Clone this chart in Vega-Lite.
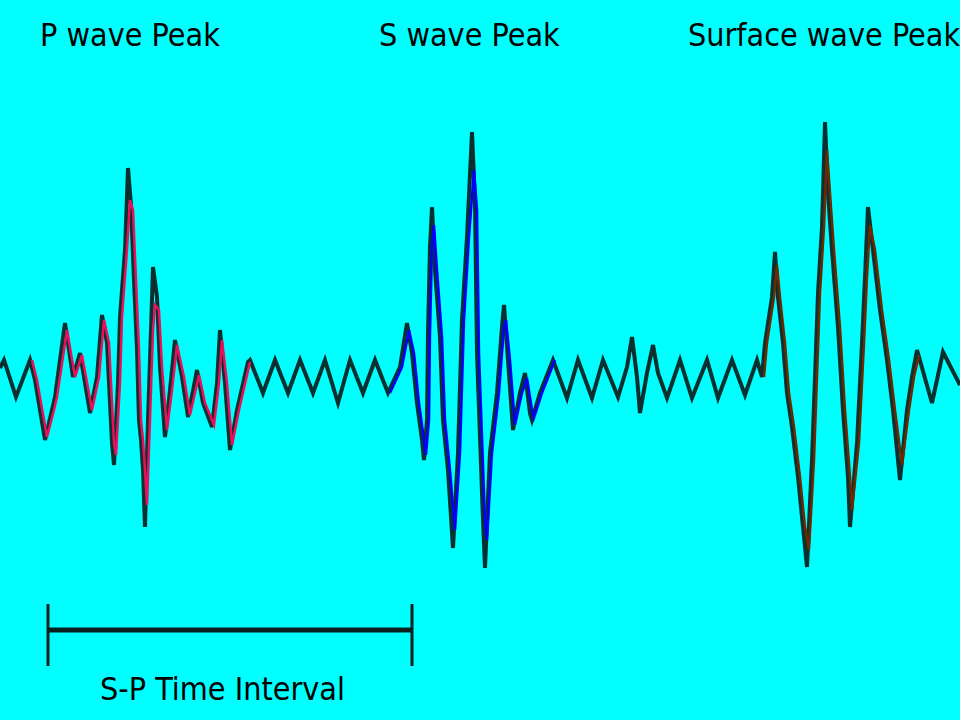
{
  "$schema": "https://vega.github.io/schema/vega-lite/v6.json",
  "width": 960,
  "height": 720,
  "autosize": "none",
  "padding": 0,
  "background": "#00FFFF",
  "config": {"view": {"stroke": null}},
  "datasets": {
    "trace": [
      {"i":1,"x":0,"y":368},{"i":2,"x":4,"y":360},{"i":3,"x":16,"y":397},{"i":4,"x":30,"y":360},
      {"i":5,"x":35,"y":380},{"i":6,"x":45,"y":440},{"i":7,"x":52,"y":410},{"i":8,"x":55,"y":397},{"i":9,"x":65,"y":323},{"i":10,"x":73,"y":377},{"i":11,"x":80,"y":353},{"i":12,"x":90,"y":413},{"i":13,"x":97,"y":377},{"i":14,"x":102,"y":315},{"i":15,"x":107,"y":343},{"i":16,"x":112,"y":443},{"i":17,"x":114,"y":465},{"i":18,"x":118,"y":383},{"i":19,"x":120,"y":317},{"i":20,"x":125,"y":250},{"i":21,"x":128,"y":168},{"i":22,"x":131,"y":205},{"i":23,"x":134,"y":280},{"i":24,"x":137,"y":350},{"i":25,"x":139,"y":420},{"i":26,"x":141,"y":440},{"i":27,"x":143,"y":470},{"i":28,"x":145,"y":527},{"i":29,"x":148,"y":420},{"i":30,"x":151,"y":330},{"i":31,"x":153,"y":267},{"i":32,"x":157,"y":297},{"i":33,"x":160,"y":367},{"i":34,"x":165,"y":437},{"i":35,"x":170,"y":390},{"i":36,"x":175,"y":340},{"i":37,"x":182,"y":377},{"i":38,"x":188,"y":417},{"i":39,"x":197,"y":370},{"i":40,"x":203,"y":403},{"i":41,"x":212,"y":427},{"i":42,"x":217,"y":383},{"i":43,"x":220,"y":330},{"i":44,"x":225,"y":383},{"i":45,"x":230,"y":450},{"i":46,"x":237,"y":410},{"i":47,"x":248,"y":362},
      {"i":48,"x":250,"y":360},{"i":49,"x":263,"y":393},{"i":50,"x":275,"y":360},{"i":51,"x":288,"y":393},{"i":52,"x":300,"y":360},{"i":53,"x":313,"y":393},{"i":54,"x":325,"y":360},{"i":55,"x":338,"y":403},{"i":56,"x":350,"y":360},{"i":57,"x":363,"y":393},{"i":58,"x":375,"y":360},{"i":59,"x":388,"y":393},
      {"i":60,"x":400,"y":367},{"i":61,"x":407,"y":323},{"i":62,"x":412,"y":353},{"i":63,"x":417,"y":403},{"i":64,"x":422,"y":440},{"i":65,"x":424,"y":460},{"i":66,"x":427,"y":420},{"i":67,"x":428,"y":333},{"i":68,"x":430,"y":247},{"i":69,"x":432,"y":207},{"i":70,"x":435,"y":270},{"i":71,"x":440,"y":337},{"i":72,"x":443,"y":420},{"i":73,"x":448,"y":470},{"i":74,"x":453,"y":548},{"i":75,"x":458,"y":453},{"i":76,"x":462,"y":320},{"i":77,"x":467,"y":237},{"i":78,"x":472,"y":132},{"i":79,"x":475,"y":203},{"i":80,"x":477,"y":353},{"i":81,"x":480,"y":437},{"i":82,"x":483,"y":520},{"i":83,"x":485,"y":568},{"i":84,"x":490,"y":453},{"i":85,"x":497,"y":393},{"i":86,"x":502,"y":327},{"i":87,"x":504,"y":305},{"i":88,"x":508,"y":360},{"i":89,"x":513,"y":430},{"i":90,"x":520,"y":393},{"i":91,"x":525,"y":373},{"i":92,"x":530,"y":413},{"i":93,"x":532,"y":420},{"i":94,"x":540,"y":393},{"i":95,"x":553,"y":360},
      {"i":96,"x":567,"y":398},{"i":97,"x":578,"y":360},{"i":98,"x":592,"y":398},{"i":99,"x":603,"y":360},{"i":100,"x":618,"y":397},{"i":101,"x":627,"y":367},{"i":102,"x":632,"y":337},{"i":103,"x":637,"y":377},{"i":104,"x":640,"y":413},{"i":105,"x":647,"y":373},{"i":106,"x":653,"y":345},{"i":107,"x":658,"y":373},{"i":108,"x":667,"y":398},{"i":109,"x":680,"y":360},{"i":110,"x":692,"y":398},{"i":111,"x":707,"y":360},{"i":112,"x":718,"y":398},{"i":113,"x":732,"y":360},{"i":114,"x":745,"y":395},{"i":115,"x":757,"y":360},{"i":116,"x":762,"y":377},
      {"i":117,"x":765,"y":343},{"i":118,"x":772,"y":297},{"i":119,"x":775,"y":252},{"i":120,"x":778,"y":297},{"i":121,"x":783,"y":343},{"i":122,"x":787,"y":393},{"i":123,"x":792,"y":427},{"i":124,"x":798,"y":477},{"i":125,"x":803,"y":527},{"i":126,"x":807,"y":567},{"i":127,"x":812,"y":460},{"i":128,"x":815,"y":377},{"i":129,"x":818,"y":293},{"i":130,"x":822,"y":227},{"i":131,"x":825,"y":122},{"i":132,"x":828,"y":193},{"i":133,"x":832,"y":250},{"i":134,"x":838,"y":327},{"i":135,"x":843,"y":410},{"i":136,"x":848,"y":477},{"i":137,"x":850,"y":527},{"i":138,"x":857,"y":443},{"i":139,"x":862,"y":343},{"i":140,"x":865,"y":277},{"i":141,"x":868,"y":207},{"i":142,"x":873,"y":250},{"i":143,"x":880,"y":310},{"i":144,"x":887,"y":360},{"i":145,"x":893,"y":410},{"i":146,"x":900,"y":480},{"i":147,"x":907,"y":410},{"i":148,"x":912,"y":377},{"i":149,"x":917,"y":350},
      {"i":150,"x":932,"y":403},{"i":151,"x":943,"y":352},{"i":152,"x":960,"y":385}
    ],
    "colored": [
      {"w":"P","i":4,"x":30,"y":360},{"w":"P","i":5,"x":35,"y":380},{"w":"P","i":6,"x":45,"y":437},{"w":"P","i":7,"x":52,"y":410},{"w":"P","i":8,"x":55,"y":397},{"w":"P","i":9,"x":65,"y":330},{"w":"P","i":10,"x":73,"y":377},{"w":"P","i":11,"x":80,"y":355},{"w":"P","i":12,"x":90,"y":410},{"w":"P","i":13,"x":97,"y":377},{"w":"P","i":14,"x":102,"y":320},{"w":"P","i":15,"x":107,"y":343},{"w":"P","i":16,"x":112,"y":443},{"w":"P","i":17,"x":114,"y":455},{"w":"P","i":18,"x":118,"y":383},{"w":"P","i":19,"x":120,"y":317},{"w":"P","i":20,"x":125,"y":250},{"w":"P","i":21,"x":128,"y":200},{"w":"P","i":22,"x":131,"y":210},{"w":"P","i":23,"x":134,"y":280},{"w":"P","i":24,"x":137,"y":350},{"w":"P","i":25,"x":139,"y":420},{"w":"P","i":26,"x":141,"y":440},{"w":"P","i":27,"x":143,"y":470},{"w":"P","i":28,"x":145,"y":505},{"w":"P","i":29,"x":148,"y":420},{"w":"P","i":30,"x":151,"y":330},{"w":"P","i":31,"x":153,"y":305},{"w":"P","i":32,"x":157,"y":310},{"w":"P","i":33,"x":160,"y":367},{"w":"P","i":34,"x":165,"y":430},{"w":"P","i":35,"x":170,"y":390},{"w":"P","i":36,"x":175,"y":345},{"w":"P","i":37,"x":182,"y":377},{"w":"P","i":38,"x":188,"y":415},{"w":"P","i":39,"x":197,"y":375},{"w":"P","i":40,"x":203,"y":403},{"w":"P","i":41,"x":212,"y":425},{"w":"P","i":42,"x":217,"y":383},{"w":"P","i":43,"x":220,"y":340},{"w":"P","i":44,"x":225,"y":383},{"w":"P","i":45,"x":230,"y":445},{"w":"P","i":46,"x":237,"y":410},{"w":"P","i":47,"x":248,"y":362},
      {"w":"S","i":59,"x":388,"y":393},{"w":"S","i":60,"x":400,"y":367},{"w":"S","i":61,"x":407,"y":330},{"w":"S","i":62,"x":412,"y":353},{"w":"S","i":63,"x":417,"y":403},{"w":"S","i":64,"x":422,"y":440},{"w":"S","i":65,"x":424,"y":455},{"w":"S","i":66,"x":427,"y":420},{"w":"S","i":67,"x":428,"y":333},{"w":"S","i":68,"x":430,"y":247},{"w":"S","i":69,"x":432,"y":225},{"w":"S","i":70,"x":435,"y":270},{"w":"S","i":71,"x":440,"y":337},{"w":"S","i":72,"x":443,"y":420},{"w":"S","i":73,"x":448,"y":470},{"w":"S","i":74,"x":453,"y":530},{"w":"S","i":75,"x":458,"y":453},{"w":"S","i":76,"x":462,"y":320},{"w":"S","i":77,"x":467,"y":237},{"w":"S","i":78,"x":472,"y":170},{"w":"S","i":79,"x":475,"y":210},{"w":"S","i":80,"x":477,"y":353},{"w":"S","i":81,"x":480,"y":437},{"w":"S","i":82,"x":483,"y":520},{"w":"S","i":83,"x":485,"y":540},{"w":"S","i":84,"x":490,"y":453},{"w":"S","i":85,"x":497,"y":393},{"w":"S","i":86,"x":502,"y":327},{"w":"S","i":87,"x":504,"y":320},{"w":"S","i":88,"x":508,"y":360},{"w":"S","i":89,"x":513,"y":425},{"w":"S","i":90,"x":520,"y":393},{"w":"S","i":91,"x":525,"y":378},{"w":"S","i":92,"x":530,"y":410},{"w":"S","i":93,"x":532,"y":418},{"w":"S","i":94,"x":540,"y":393},{"w":"S","i":95,"x":553,"y":360},
      {"w":"Surface","i":116,"x":762,"y":377},{"w":"Surface","i":117,"x":765,"y":343},{"w":"Surface","i":118,"x":772,"y":297},{"w":"Surface","i":119,"x":775,"y":265},{"w":"Surface","i":120,"x":778,"y":297},{"w":"Surface","i":121,"x":783,"y":343},{"w":"Surface","i":122,"x":787,"y":393},{"w":"Surface","i":123,"x":792,"y":427},{"w":"Surface","i":124,"x":798,"y":477},{"w":"Surface","i":125,"x":803,"y":527},{"w":"Surface","i":126,"x":807,"y":550},{"w":"Surface","i":127,"x":812,"y":460},{"w":"Surface","i":128,"x":815,"y":377},{"w":"Surface","i":129,"x":818,"y":293},{"w":"Surface","i":130,"x":822,"y":227},{"w":"Surface","i":131,"x":825,"y":150},{"w":"Surface","i":132,"x":828,"y":193},{"w":"Surface","i":133,"x":832,"y":250},{"w":"Surface","i":134,"x":838,"y":327},{"w":"Surface","i":135,"x":843,"y":410},{"w":"Surface","i":136,"x":848,"y":477},{"w":"Surface","i":137,"x":850,"y":510},{"w":"Surface","i":138,"x":857,"y":443},{"w":"Surface","i":139,"x":862,"y":343},{"w":"Surface","i":140,"x":865,"y":277},{"w":"Surface","i":141,"x":868,"y":225},{"w":"Surface","i":142,"x":873,"y":250},{"w":"Surface","i":143,"x":880,"y":310},{"w":"Surface","i":144,"x":887,"y":360},{"w":"Surface","i":145,"x":893,"y":410},{"w":"Surface","i":146,"x":900,"y":465},{"w":"Surface","i":147,"x":907,"y":410},{"w":"Surface","i":148,"x":912,"y":377},{"w":"Surface","i":149,"x":917,"y":355}
    ],
    "labels": [
      {"x":40,"y":46,"t":"P wave Peak"},
      {"x":379,"y":46,"t":"S wave Peak"},
      {"x":688,"y":46,"t":"Surface wave Peak"},
      {"x":100,"y":700,"t":"S-P Time Interval"}
    ],
    "bracket": [
      {"x":48,"x2":412,"y":630,"y2":630,"k":"h"},
      {"x":48,"x2":48,"y":604,"y2":666,"k":"v"},
      {"x":412,"x2":412,"y":604,"y2":666,"k":"v"}
    ]
  },
  "layer": [
    {
      "data": {"name": "trace"},
      "mark": {"type": "line", "color": "#0a3030", "strokeWidth": 4, "strokeJoin": "miter"},
      "encoding": {
        "x": {"field": "x", "type": "quantitative", "scale": {"domain": [0, 960], "nice": false, "zero": false}, "axis": null},
        "y": {"field": "y", "type": "quantitative", "scale": {"domain": [0, 720], "reverse": true, "nice": false, "zero": false}, "axis": null},
        "order": {"field": "i", "type": "quantitative"}
      }
    },
    {
      "data": {"name": "colored"},
      "mark": {"type": "line", "strokeWidth": 2.5, "xOffset": 2},
      "encoding": {
        "x": {"field": "x", "type": "quantitative", "scale": {"domain": [0, 960], "nice": false, "zero": false}, "axis": null},
        "y": {"field": "y", "type": "quantitative", "scale": {"domain": [0, 720], "reverse": true, "nice": false, "zero": false}, "axis": null},
        "order": {"field": "i", "type": "quantitative"},
        "color": {"field": "w", "type": "nominal", "legend": null, "scale": {"domain": ["P", "S", "Surface"], "range": ["#E8105A", "#0000FF", "#6B2A00"]}}
      }
    },
    {
      "data": {"name": "bracket"},
      "mark": {"type": "rule", "color": "#0a2020"},
      "encoding": {
        "x": {"field": "x", "type": "quantitative", "scale": {"domain": [0, 960], "nice": false, "zero": false}, "axis": null},
        "x2": {"field": "x2"},
        "y": {"field": "y", "type": "quantitative", "scale": {"domain": [0, 720], "reverse": true, "nice": false, "zero": false}, "axis": null},
        "y2": {"field": "y2"},
        "strokeWidth": {"field": "k", "type": "nominal", "legend": null, "scale": {"domain": ["h", "v"], "range": [5, 3]}}
      }
    },
    {
      "data": {"name": "labels"},
      "mark": {"type": "text", "align": "left", "baseline": "alphabetic", "font": "DejaVu Sans Condensed, sans-serif", "fontSize": 32, "color": "#000000"},
      "encoding": {
        "x": {"field": "x", "type": "quantitative", "scale": {"domain": [0, 960], "nice": false, "zero": false}, "axis": null},
        "y": {"field": "y", "type": "quantitative", "scale": {"domain": [0, 720], "reverse": true, "nice": false, "zero": false}, "axis": null},
        "text": {"field": "t"}
      }
    }
  ]
}
